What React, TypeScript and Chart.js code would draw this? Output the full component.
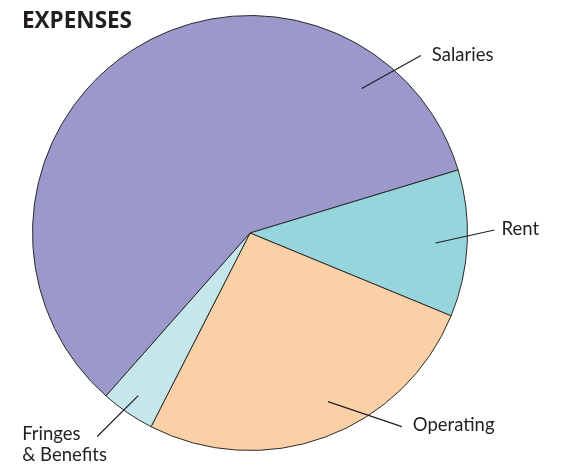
import React, { useEffect, useRef } from "react";
import { Chart, registerables } from "chart.js";

Chart.register(...registerables);

const categories = ["Salaries", "Rent", "Operating", "Fringes\n& Benefits"];
const values = [58.8, 10.9, 26.3, 4.0];
const colors = ["#9b99cc", "#96d5dc", "#fbd0a6", "#c5e6ea"];
const title = "EXPENSES";

// leader lines: [inner angle deg, inner radius frac, outer angle deg, outer radius frac, text dx, text dy, align]
const leaders: [number, number, number, number, number, number, CanvasTextAlign][] = [
  [-52.3, 0.84, -46.1, 1.133, 11, 0, "left"],
  [3.08, 0.855, -0.7, 1.124, 7, -1, "left"],
  [65.2, 0.854, 51.9, 1.131, 11, -2, "left"],
  [124.5, 0.907, 126.9, 1.17, -75, -2, "left"],
];

const labelPlugin = {
  id: "leaderLabels",
  afterDraw(chart: any) {
    const ctx = chart.ctx;
    const meta = chart.getDatasetMeta(0);
    const arc0 = meta.data[0];
    const cx = arc0.x;
    const cy = arc0.y;
    const R = arc0.outerRadius;
    ctx.save();
    // title
    ctx.fillStyle = "#231f20";
    ctx.font = "bold 22.5px 'Open Sans'";
    ctx.textAlign = "left";
    ctx.textBaseline = "middle";
    ctx.fillText(title, 22, 22);
    ctx.font = "18.5px Lato";
    ctx.strokeStyle = "#231f20";
    ctx.lineWidth = 1.2;
    categories.forEach((cat, i) => {
      const [a1, r1, a2, r2, dx, dy, align] = leaders[i];
      const x1 = cx + Math.cos((a1 * Math.PI) / 180) * r1 * R;
      const y1 = cy + Math.sin((a1 * Math.PI) / 180) * r1 * R;
      const x2 = cx + Math.cos((a2 * Math.PI) / 180) * r2 * R;
      const y2 = cy + Math.sin((a2 * Math.PI) / 180) * r2 * R;
      ctx.beginPath();
      ctx.moveTo(x1, y1);
      ctx.lineTo(x2, y2);
      ctx.stroke();
      ctx.textAlign = align;
      const lines = cat.split("\n");
      lines.forEach((ln, j) => {
        ctx.fillText(ln, x2 + dx, y2 + dy + j * 21);
      });
    });
    ctx.restore();
  },
};

export default function App() {
  const ref = useRef<HTMLCanvasElement | null>(null);
  useEffect(() => {
    if (!ref.current) return;
    const chart = new Chart(ref.current, {
      type: "pie",
      data: {
        labels: categories,
        datasets: [
          {
            data: values,
            backgroundColor: colors,
            borderColor: "#2a2a2a",
            borderWidth: 1,
          },
        ],
      },
      options: {
        responsive: false,
        animation: false,
        rotation: 221.46,
        layout: { padding: { top: 15, bottom: 16, left: 32, right: 94 } },
        plugins: {
          legend: { display: false },
          tooltip: { enabled: false },
          title: { display: false },
        },
      },
      plugins: [labelPlugin],
    });
    return () => chart.destroy();
  }, []);
  return (
    <div style={{ position: "absolute", left: 0, top: 0, width: 562, height: 467, background: "#fff" }}>
      <canvas ref={ref} width={562} height={467} />
    </div>
  );
}
